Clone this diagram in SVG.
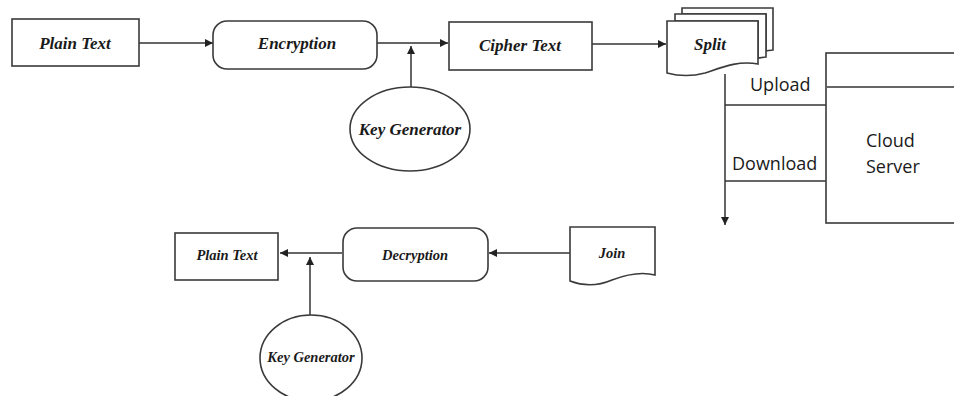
<svg xmlns="http://www.w3.org/2000/svg" width="954" height="396" viewBox="0 0 954 396">
<defs>
<marker id="ah" viewBox="0 0 10 10" refX="10" refY="5" markerWidth="9" markerHeight="8" markerUnits="userSpaceOnUse" orient="auto">
<path d="M0,0 L10,5 L0,10 Z" fill="#222"/>
</marker>
</defs>
<style>
.shape{fill:#fff;stroke:#3a3a3a;stroke-width:1.6}
.ln{fill:none;stroke:#333;stroke-width:1.5}
.lbl{font-family:"Liberation Serif","Times New Roman",serif;font-weight:bold;font-style:italic;fill:#1a1a1a;text-anchor:middle}
.t1{font-size:17px}
.t2{font-size:14.5px}
.sans{font-family:"Open Sans","Noto Sans",sans-serif;font-size:18px;fill:#1a1a1a}
</style>
<rect width="954" height="396" fill="#fff"/>
<g id="connectors">
<line class="ln" x1="139" y1="43" x2="213" y2="43" marker-end="url(#ah)"/>
<line class="ln" x1="377" y1="43" x2="448" y2="43" marker-end="url(#ah)"/>
<line class="ln" x1="411" y1="87" x2="411" y2="46" marker-end="url(#ah)"/>
<line class="ln" x1="592" y1="44" x2="666" y2="44" marker-end="url(#ah)"/>
<line class="ln" x1="725" y1="74" x2="725" y2="225" marker-end="url(#ah)"/>
<line class="ln" x1="725" y1="105" x2="826" y2="105"/>
<line class="ln" x1="725" y1="181" x2="826" y2="181"/>
<line class="ln" x1="570" y1="253" x2="489" y2="253" marker-end="url(#ah)"/>
<line class="ln" x1="342" y1="253" x2="280" y2="253" marker-end="url(#ah)"/>
<line class="ln" x1="310" y1="315" x2="310" y2="257" marker-end="url(#ah)"/>
</g>
<g id="plain-text-1">
<rect class="shape" x="12" y="19" width="127" height="47"/>
<text class="lbl t1" x="75" y="49">Plain Text</text>
</g>
<g id="encryption">
<rect class="shape" x="213" y="21" width="164" height="48" rx="14" ry="14"/>
<text class="lbl t1" x="297" y="49">Encryption</text>
</g>
<g id="key-generator-1">
<ellipse class="shape" cx="410" cy="129" rx="60" ry="42"/>
<text class="lbl t1" x="410" y="135">Key Generator</text>
</g>
<g id="cipher-text">
<rect class="shape" x="449" y="22" width="143" height="48"/>
<text class="lbl t1" x="520" y="51">Cipher Text</text>
</g>
<g id="split">
<path class="shape" d="M682,8 H773 V50 C770,50 768,51 766,51 V14 H682 Z"/>
<path class="shape" d="M675,14 H766 V57 C763,57 761,58 758,58 V21 H675 Z"/>
<path class="shape" d="M667,21 H758 V64 C738,60 720,68 705,73 C690,77 678,76 667,73 Z"/>
<text class="lbl t1" x="710" y="50">Split</text>
</g>
<g id="cloud-server">
<rect class="shape" x="826" y="53" width="140" height="170"/>
<line class="ln" x1="827" y1="87" x2="954" y2="87"/>
<text class="sans" x="866" y="147">Cloud</text>
<text class="sans" x="866" y="173">Server</text>
</g>
<g id="upload-label">
<text class="sans" x="750" y="91">Upload</text>
</g>
<g id="download-label">
<text class="sans" x="732" y="170">Download</text>
</g>
<g id="join">
<path class="shape" d="M570,227 H655 V275 C640,271 625,275 612,280 C598,286 583,286 570,281 Z"/>
<text class="lbl t2" x="612" y="258">Join</text>
</g>
<g id="decryption">
<rect class="shape" x="343" y="228" width="145" height="53" rx="14" ry="14"/>
<text class="lbl t2" x="415" y="260">Decryption</text>
</g>
<g id="plain-text-2">
<rect class="shape" x="175" y="233" width="103" height="47"/>
<text class="lbl t2" x="227" y="260">Plain Text</text>
</g>
<g id="key-generator-2">
<ellipse class="shape" cx="311" cy="358" rx="51" ry="43"/>
<text class="lbl t2" x="311" y="362">Key Generator</text>
</g>
</svg>
